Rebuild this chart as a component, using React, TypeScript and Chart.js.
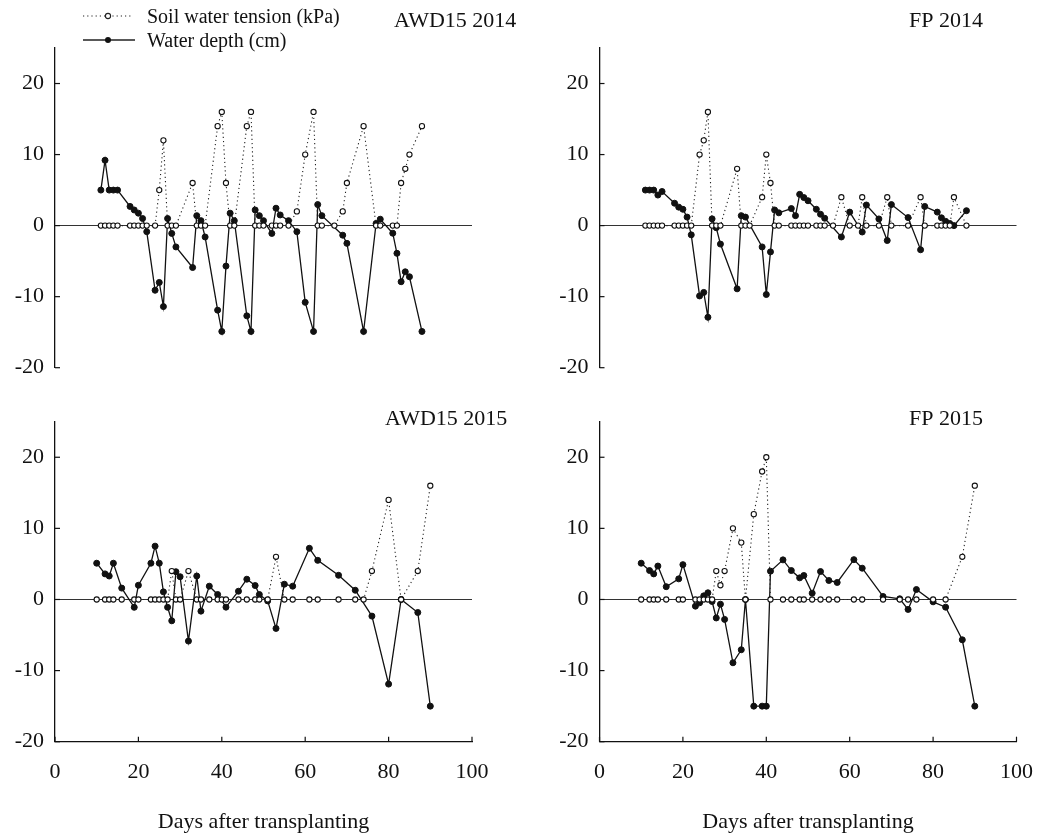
import React, { useEffect, useRef } from 'react';
import { Chart, registerables } from 'chart.js';

Chart.register(...registerables);

const FONT = "'Liberation Serif', 'Times New Roman', serif";

// ---------- AWD15 2014 ----------
const awd14DepthDays = [11, 12, 13, 14, 15, 18, 19, 20, 21, 22, 24, 25, 26, 27, 28, 29, 33, 34, 35, 36, 39, 40, 41, 42, 43, 46, 47, 48, 49, 50, 52, 53, 54, 56, 58, 60, 62, 63, 64, 69, 70, 74, 77, 78, 81, 82, 83, 84, 85, 88];
const awd14Depth = [5, 9.2, 5, 5, 5, 2.7, 2.2, 1.75, 1.0, -0.85, -9.1, -8, -11.4, 1.0, -1.1, -3.0, -5.9, 1.4, 0.7, -1.6, -11.9, -14.9, -5.7, 1.75, 0.7, -12.7, -14.9, 2.2, 1.4, 0.7, -1.1, 2.45, 1.5, 0.7, -0.85, -10.8, -14.9, 2.96, 1.4, -1.35, -2.5, -14.9, 0.3, 0.9, -1.07, -3.9, -7.9, -6.5, -7.2, -14.9];
const awd14TensionDays = [11, 12, 13, 14, 15, 18, 19, 20, 21, 22, 24, 25, 26, 27, 28, 29, 33, 34, 35, 36, 39, 40, 41, 42, 43, 46, 47, 48, 49, 50, 52, 53, 54, 56, 58, 60, 62, 63, 64, 67, 69, 70, 74, 77, 78, 81, 82, 83, 84, 85, 88];
const awd14Tension = [0, 0, 0, 0, 0, 0, 0, 0, 0, 0, 0, 5, 12, 0, 0, 0, 6, 0, 0, 0, 14, 16, 6, 0, 0, 14, 16, 0, 0, 0, 0, 0, 0, 0, 2, 10, 16, 0, 0, 0, 2, 6, 14, 0, 0, 0, 0, 6, 8, 10, 14];

// ---------- FP 2014 ----------
const fp14DepthDays = [11, 12, 13, 14, 15, 18, 19, 20, 21, 22, 24, 25, 26, 27, 28, 29, 33, 34, 35, 39, 40, 41, 42, 43, 46, 47, 48, 49, 50, 52, 53, 54, 58, 60, 63, 64, 67, 69, 70, 74, 77, 78, 81, 82, 83, 84, 85, 88];
const fp14Depth = [5, 5, 5, 4.3, 4.8, 3.15, 2.6, 2.3, 1.2, -1.3, -9.9, -9.4, -12.9, 0.95, -0.3, -2.6, -8.9, 1.4, 1.2, -3.0, -9.7, -3.7, 2.2, 1.8, 2.4, 1.4, 4.4, 3.95, 3.5, 2.3, 1.6, 1.04, -1.6, 1.9, -0.9, 2.9, 0.94, -2.1, 2.96, 1.13, -3.4, 2.7, 1.9, 1.1, 0.6, 0.3, 0, 2.1];
const fp14TensionDays = [11, 12, 13, 14, 15, 18, 19, 20, 21, 22, 24, 25, 26, 27, 28, 29, 33, 34, 35, 36, 39, 40, 41, 42, 43, 46, 47, 48, 49, 50, 52, 53, 54, 56, 58, 60, 62, 63, 64, 67, 69, 70, 74, 77, 78, 81, 82, 83, 84, 85, 88];
const fp14Tension = [0, 0, 0, 0, 0, 0, 0, 0, 0, 0, 10, 12, 16, 0, 0, 0, 8, 0, 0, 0, 4, 10, 6, 0, 0, 0, 0, 0, 0, 0, 0, 0, 0, 0, 4, 0, 0, 4, 0, 0, 4, 0, 0, 4, 0, 0, 0, 0, 0, 4, 0];

// ---------- AWD15 2015 ----------
const awd15DepthDays = [10, 12, 13, 14, 16, 19, 20, 23, 24, 25, 26, 27, 28, 29, 30, 32, 34, 35, 37, 39, 41, 44, 46, 48, 49, 51, 53, 55, 57, 61, 63, 68, 72, 76, 80, 83, 87, 90];
const awd15Depth = [5.1, 3.6, 3.3, 5.1, 1.6, -1.1, 2.0, 5.1, 7.5, 5.1, 1.07, -1.1, -3.0, 3.9, 3.2, -5.85, 3.3, -1.64, 1.87, 0.7, -1.08, 1.16, 2.85, 1.96, 0.7, -0.2, -4.07, 2.15, 1.87, 7.2, 5.5, 3.4, 1.3, -2.34, -11.9, 0, -1.83, -15];
const awd15TensionDays = [10, 12, 13, 14, 16, 19, 20, 23, 24, 25, 26, 27, 28, 29, 30, 32, 34, 35, 37, 39, 40, 41, 44, 46, 48, 49, 51, 53, 55, 57, 61, 63, 68, 72, 74, 76, 80, 83, 87, 90];
const awd15Tension = [0, 0, 0, 0, 0, 0, 0, 0, 0, 0, 0, 0, 4, 0, 0, 4, 0, 0, 0, 0, 0, 0, 0, 0, 0, 0, 0, 6, 0, 0, 0, 0, 0, 0, 0, 4, 14, 0, 4, 16];

// ---------- FP 2015 ----------
const fp15DepthDays = [10, 12, 13, 14, 16, 19, 20, 23, 24, 25, 26, 27, 28, 29, 30, 32, 34, 35, 37, 39, 40, 41, 44, 46, 48, 49, 51, 53, 55, 57, 61, 63, 68, 72, 74, 76, 80, 83, 87, 90];
const fp15Depth = [5.1, 4.07, 3.6, 4.7, 1.8, 2.9, 4.9, -0.94, -0.47, 0.51, 0.94, -0.28, -2.6, -0.66, -2.8, -8.9, -7.07, 0, -15, -15, -15, 3.98, 5.57, 4.07, 3.04, 3.37, 0.89, 3.93, 2.67, 2.39, 5.6, 4.4, 0.42, 0.1, -1.4, 1.4, -0.33, -1.08, -5.67, -15];
const fp15TensionDays = [10, 12, 13, 14, 16, 19, 20, 23, 24, 25, 26, 27, 28, 29, 30, 32, 34, 35, 37, 39, 40, 41, 44, 46, 48, 49, 51, 53, 55, 57, 61, 63, 68, 72, 74, 76, 80, 83, 87, 90];
const fp15Tension = [0, 0, 0, 0, 0, 0, 0, 0, 0, 0, 0, 0, 4, 2, 4, 10, 8, 0, 12, 18, 20, 0, 0, 0, 0, 0, 0, 0, 0, 0, 0, 0, 0, 0, 0, 0, 0, 0, 6, 16];

// ---------- axis / labels ----------
const xTickValues = [0, 20, 40, 60, 80, 100];
const yTickValues = [-20, -10, 0, 10, 20];
const xTitle = 'Days after transplanting';
const legendTension = 'Soil water tension (kPa)';
const legendDepth = 'Water depth (cm)';

const zip = (xs: number[], ys: number[]) => xs.map((x, i) => ({ x, y: ys[i] }));

type PanelSpec = {
  title: string;
  depthDays: number[];
  depth: number[];
  tensionDays: number[];
  tension: number[];
  left: number;
  top: number;
  w: number;
  h: number;
  yWidth: number;
  padRight: number;
  padTop: number;
  padBottom: number;
  showX: boolean;
  xHeight: number;
  titleX: number;
  titleY: number;
  titleAlign: CanvasTextAlign;
  legend: boolean;
};

const panelTextPlugin = {
  id: 'panelText',
  afterDraw(chart: any, _args: any, opts: any) {
    const { ctx } = chart;
    ctx.save();
    ctx.fillStyle = '#111';
    ctx.font = `22px ${FONT}`;
    ctx.textAlign = opts.titleAlign;
    ctx.textBaseline = 'alphabetic';
    ctx.fillText(opts.title, opts.titleX, opts.titleY);
    if (opts.legend) {
      // row 1 : dotted line with open circle
      ctx.strokeStyle = '#222';
      ctx.lineWidth = 1.1;
      ctx.setLineDash([1.2, 3]);
      ctx.beginPath();
      ctx.moveTo(83, 16);
      ctx.lineTo(133, 16);
      ctx.stroke();
      ctx.setLineDash([]);
      ctx.beginPath();
      ctx.arc(108, 16, 2.6, 0, Math.PI * 2);
      ctx.fillStyle = '#fff';
      ctx.fill();
      ctx.stroke();
      // row 2 : solid line with filled circle
      ctx.lineWidth = 1.3;
      ctx.beginPath();
      ctx.moveTo(83, 40);
      ctx.lineTo(135, 40);
      ctx.stroke();
      ctx.beginPath();
      ctx.arc(108, 40, 3, 0, Math.PI * 2);
      ctx.fillStyle = '#111';
      ctx.fill();
      ctx.font = `20px ${FONT}`;
      ctx.textAlign = 'left';
      ctx.fillText(legendTension, 147, 23);
      ctx.fillText(legendDepth, 147, 47);
    }
    ctx.restore();
  },
};

const inwardTicksPlugin = {
  id: 'inwardTicks',
  beforeDatasetsDraw(chart: any) {
    const { ctx, chartArea, scales } = chart;
    ctx.save();
    ctx.strokeStyle = '#111';
    ctx.lineWidth = 1.2;
    const y = scales.y;
    y.ticks.forEach((t: any) => {
      const py = y.getPixelForValue(t.value);
      ctx.beginPath();
      ctx.moveTo(chartArea.left, py);
      ctx.lineTo(chartArea.left + 5, py);
      ctx.stroke();
    });
    const x = scales.x;
    if (x.options.display) {
      x.ticks.forEach((t: any) => {
        const px = x.getPixelForValue(t.value);
        ctx.beginPath();
        ctx.moveTo(px, chartArea.bottom);
        ctx.lineTo(px, chartArea.bottom - 5);
        ctx.stroke();
      });
    }
    ctx.restore();
  },
};

function makeConfig(p: PanelSpec): any {
  return {
    type: 'scatter',
    data: {
      datasets: [
        {
          label: legendTension,
          data: zip(p.tensionDays, p.tension),
          showLine: true,
          borderColor: '#222',
          borderWidth: 1.1,
          borderDash: [1.2, 3],
          pointStyle: 'circle',
          pointRadius: 2.6,
          pointBackgroundColor: '#fff',
          pointBorderColor: '#111',
          pointBorderWidth: 1.1,
        },
        {
          label: legendDepth,
          data: zip(p.depthDays, p.depth),
          showLine: true,
          borderColor: '#111',
          borderWidth: 1.3,
          pointStyle: 'circle',
          pointRadius: 3,
          pointBackgroundColor: '#111',
          pointBorderColor: '#111',
          pointBorderWidth: 1,
        },
      ],
    },
    options: {
      responsive: false,
      animation: false,
      devicePixelRatio: 1,
      layout: { padding: { left: 0, right: p.padRight, top: p.padTop, bottom: p.padBottom } },
      plugins: {
        legend: { display: false },
        tooltip: { enabled: false },
        panelText: {
          title: p.title,
          titleX: p.titleX,
          titleY: p.titleY,
          titleAlign: p.titleAlign,
          legend: p.legend,
        },
      },
      scales: {
        x: {
          type: 'linear',
          min: 0,
          max: 100,
          display: p.showX,
          afterBuildTicks: (s: any) => {
            s.ticks = xTickValues.map((v) => ({ value: v }));
          },
          afterFit: (s: any) => {
            s.height = p.xHeight;
            s.paddingLeft = 0;
            s.paddingRight = 0;
          },
          grid: { drawOnChartArea: false, drawTicks: false, color: 'rgba(0,0,0,0)' },
          border: { display: true, color: '#111', width: 1.3 },
          ticks: { color: '#111', padding: 17, font: { family: FONT, size: 22 }, maxRotation: 0 },
          title: {
            display: true,
            text: xTitle,
            color: '#111',
            font: { family: FONT, size: 22 },
            padding: { top: 0, bottom: 2 },
          },
        },
        y: {
          type: 'linear',
          min: -20,
          max: 25,
          afterBuildTicks: (s: any) => {
            s.ticks = yTickValues.map((v) => ({ value: v }));
          },
          afterFit: (s: any) => {
            s.width = p.yWidth;
            s.paddingTop = 0;
            s.paddingBottom = 0;
          },
          grid: {
            drawTicks: false,
            lineWidth: 1,
            color: (c: any) => (c.tick && c.tick.value === 0 ? '#333' : 'rgba(0,0,0,0)'),
          },
          border: { display: true, color: '#111', width: 1.3 },
          ticks: { color: '#111', padding: 11, font: { family: FONT, size: 22 } },
        },
      },
    },
    plugins: [panelTextPlugin, inwardTicksPlugin],
  };
}

const panels: PanelSpec[] = [
  {
    title: 'AWD15 2014', depthDays: awd14DepthDays, depth: awd14Depth, tensionDays: awd14TensionDays, tension: awd14Tension,
    left: 0, top: 0, w: 520, h: 395, yWidth: 55, padRight: 48, padTop: 48, padBottom: 27.3, showX: false, xHeight: 0,
    titleX: 394, titleY: 27, titleAlign: 'left', legend: true,
  },
  {
    title: 'FP 2014', depthDays: fp14DepthDays, depth: fp14Depth, tensionDays: fp14TensionDays, tension: fp14Tension,
    left: 520, top: 0, w: 517, h: 395, yWidth: 79.5, padRight: 20.5, padTop: 48, padBottom: 27.3, showX: false, xHeight: 0,
    titleX: 463, titleY: 27, titleAlign: 'right', legend: false,
  },
  {
    title: 'AWD15 2015', depthDays: awd15DepthDays, depth: awd15Depth, tensionDays: awd15TensionDays, tension: awd15Tension,
    left: 0, top: 395, w: 520, h: 442, yWidth: 55, padRight: 48, padTop: 26.7, padBottom: 0, showX: true, xHeight: 95.3,
    titleX: 385, titleY: 30, titleAlign: 'left', legend: false,
  },
  {
    title: 'FP 2015', depthDays: fp15DepthDays, depth: fp15Depth, tensionDays: fp15TensionDays, tension: fp15Tension,
    left: 520, top: 395, w: 517, h: 442, yWidth: 79.5, padRight: 20.5, padTop: 26.7, padBottom: 0, showX: true, xHeight: 95.3,
    titleX: 463, titleY: 30, titleAlign: 'right', legend: false,
  },
];

function Panel({ p }: { p: PanelSpec }) {
  const ref = useRef<HTMLCanvasElement>(null);
  useEffect(() => {
    if (!ref.current) return;
    const chart = new Chart(ref.current, makeConfig(p));
    return () => chart.destroy();
  }, [p]);
  return (
    <canvas
      ref={ref}
      width={p.w}
      height={p.h}
      style={{ position: 'absolute', left: p.left, top: p.top, width: p.w, height: p.h }}
    />
  );
}

export default function App() {
  return (
    <div style={{ position: 'fixed', left: 0, top: 0, width: 1037, height: 837, background: '#fff', overflow: 'hidden' }}>
      {panels.map((p) => (
        <Panel key={p.title} p={p} />
      ))}
    </div>
  );
}
